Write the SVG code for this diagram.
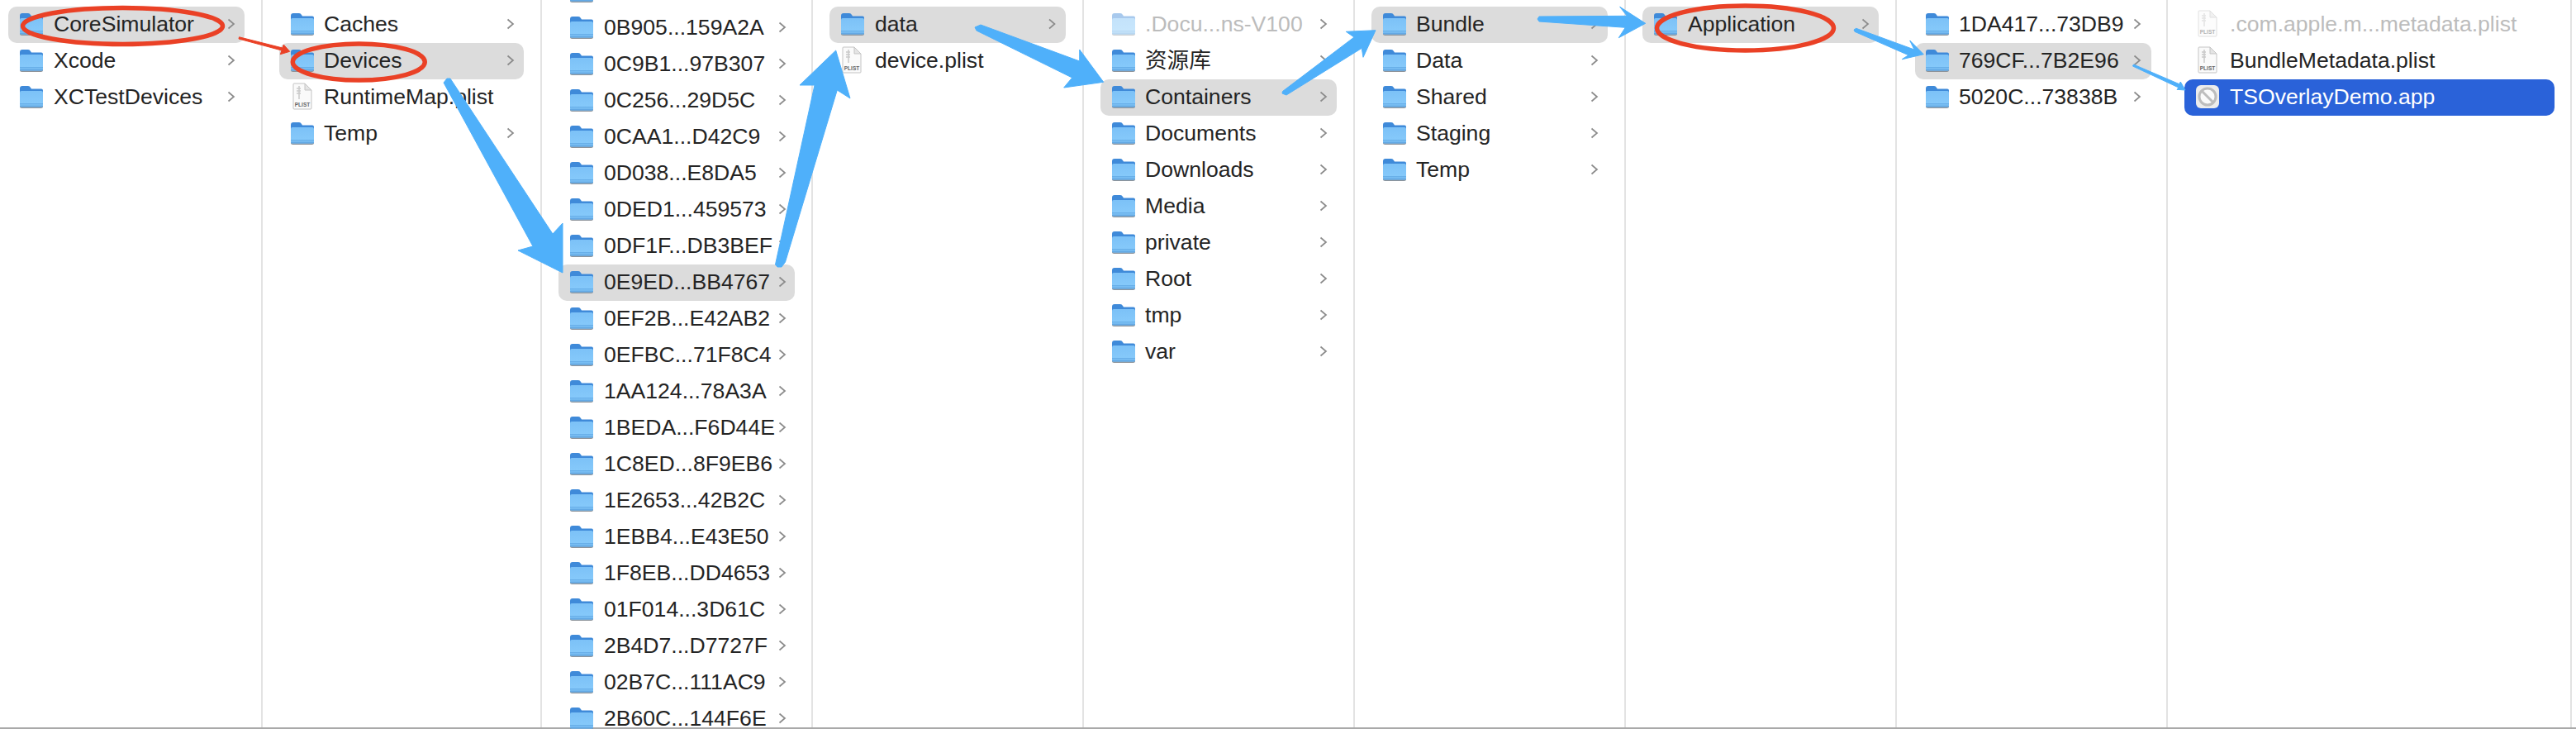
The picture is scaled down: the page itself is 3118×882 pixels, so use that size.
<svg xmlns="http://www.w3.org/2000/svg" width="3118" height="882" viewBox="0 0 3118 882">
<style>
text{font-family:"Liberation Sans","Noto Sans CJK SC",sans-serif;font-size:26.6px;fill:#242424}
.dim{fill:#bcbcbc}.sel{fill:#fff}
.hl{fill:#dcdcdc}.blue{fill:#2a62d9}
.div{stroke:#e3e3e3;stroke-width:2}
.chev{fill:none;stroke:#8b8b8b;stroke-width:1.7}
.arrow{fill:#4fb0fa;stroke:#4fb0fa;stroke-width:1;stroke-linejoin:round}
.ring{fill:none;stroke:#ea4126;stroke-width:5.500}
.plbl{font-size:6.5px;fill:#666;font-weight:bold}
</style>
<defs>
<linearGradient id="fb" x1="0" y1="0" x2="0" y2="1"><stop offset="0" stop-color="#7cc1f7"/><stop offset="1" stop-color="#88cbfb"/></linearGradient>
<g id="folder">
<rect x="0" y="-5" width="28" height="19" rx="2.5" fill="#8d939a"/>
<path d="M0-10q0-3 3-3h7q2 0 3 2l1 1.500h12q2 0 2 2v8H0z" fill="#3f8ad9"/>
<rect x="0" y="-7" width="28" height="19.500" rx="2" fill="url(#fb)"/>
<rect x="0" y="8" width="28" height="1.500" fill="#68afe9"/>
<rect x="0" y="10.500" width="28" height="2" rx="1" fill="#62a8e4"/>
</g>
<g id="plist">
<path d="M1-16h13l8 8v22a1 1 0 0 1-1 1H1a1 1 0 0 1-1-1v-29a1 1 0 0 1 1-1z" fill="#fafafa" stroke="#c4c4c4"/>
<path d="M14-16v8h8z" fill="#e4e4e4" stroke="#c4c4c4"/>
<path d="M7-13v16M4-10h5M4-7h5M4-4h5" stroke="#c9c9c9" stroke-width="1.500" fill="none"/>
<text x="11" y="12" text-anchor="middle" class="plbl">PLIST</text>
</g>
<path id="ch" class="chev" d="M0-5.500L6.500 0L0 5.500"/>
</defs>
<rect width="3118" height="882" fill="#fff"/>
<g id="dividers">
<line class="div" x1="317" y1="0" x2="317" y2="880"/>
<line class="div" x1="655" y1="0" x2="655" y2="880"/>
<line class="div" x1="983" y1="0" x2="983" y2="880"/>
<line class="div" x1="1311" y1="0" x2="1311" y2="880"/>
<line class="div" x1="1639" y1="0" x2="1639" y2="880"/>
<line class="div" x1="1967" y1="0" x2="1967" y2="880"/>
<line class="div" x1="2295" y1="0" x2="2295" y2="880"/>
<line class="div" x1="2623" y1="0" x2="2623" y2="880"/>
<line class="div" x1="3112" y1="0" x2="3112" y2="880"/>
<rect x="0" y="880" width="3118" height="2" fill="#a9a9a9"/>
</g>
<g id="col1">
<g id="coresimulator"><rect class="hl" x="10" y="8" width="286" height="44" rx="10"/><use href="#folder" x="24" y="29"/><text x="65" y="38">CoreSimulator</text><use href="#ch" x="276.500" y="29"/></g>
<g id="xcode"><use href="#folder" x="24" y="73"/><text x="65" y="82">Xcode</text><use href="#ch" x="276.500" y="73"/></g>
<g id="xctestdevices"><use href="#folder" x="24" y="117"/><text x="65" y="126">XCTestDevices</text><use href="#ch" x="276.500" y="117"/></g>
</g>
<g id="col2">
<g id="caches"><use href="#folder" x="352" y="29"/><text x="392" y="38">Caches</text><use href="#ch" x="614.500" y="29"/></g>
<g id="devices"><rect class="hl" x="338" y="52" width="296" height="44" rx="10"/><use href="#folder" x="352" y="73"/><text x="392" y="82">Devices</text><use href="#ch" x="614.500" y="73"/></g>
<g id="runtimemap"><use href="#plist" x="355" y="117"/><text x="392" y="126">RuntimeMap.plist</text></g>
<g id="temp2"><use href="#folder" x="352" y="161"/><text x="392" y="170">Temp</text><use href="#ch" x="614.500" y="161"/></g>
</g>
<g id="col3">
<g id="d00"><use href="#folder" x="690" y="-11"/></g>
<g id="d01"><use href="#folder" x="690" y="33"/><text x="731" y="42">0B905...159A2A</text><use href="#ch" x="943.500" y="33"/></g>
<g id="d02"><use href="#folder" x="690" y="77"/><text x="731" y="86">0C9B1...97B307</text><use href="#ch" x="943.500" y="77"/></g>
<g id="d03"><use href="#folder" x="690" y="121"/><text x="731" y="130">0C256...29D5C</text><use href="#ch" x="943.500" y="121"/></g>
<g id="d04"><use href="#folder" x="690" y="165"/><text x="731" y="174">0CAA1...D42C9</text><use href="#ch" x="943.500" y="165"/></g>
<g id="d05"><use href="#folder" x="690" y="209"/><text x="731" y="218">0D038...E8DA5</text><use href="#ch" x="943.500" y="209"/></g>
<g id="d06"><use href="#folder" x="690" y="253"/><text x="731" y="262">0DED1...459573</text><use href="#ch" x="943.500" y="253"/></g>
<g id="d07"><use href="#folder" x="690" y="297"/><text x="731" y="306">0DF1F...DB3BEF</text><use href="#ch" x="943.500" y="297"/></g>
<g id="d08"><rect class="hl" x="676" y="320" width="286" height="44" rx="10"/><use href="#folder" x="690" y="341"/><text x="731" y="350">0E9ED...BB4767</text><use href="#ch" x="943.500" y="341"/></g>
<g id="d09"><use href="#folder" x="690" y="385"/><text x="731" y="394">0EF2B...E42AB2</text><use href="#ch" x="943.500" y="385"/></g>
<g id="d10"><use href="#folder" x="690" y="429"/><text x="731" y="438">0EFBC...71F8C4</text><use href="#ch" x="943.500" y="429"/></g>
<g id="d11"><use href="#folder" x="690" y="473"/><text x="731" y="482">1AA124...78A3A</text><use href="#ch" x="943.500" y="473"/></g>
<g id="d12"><use href="#folder" x="690" y="517"/><text x="731" y="526">1BEDA...F6D44E</text><use href="#ch" x="943.500" y="517"/></g>
<g id="d13"><use href="#folder" x="690" y="561"/><text x="731" y="570">1C8ED...8F9EB6</text><use href="#ch" x="943.500" y="561"/></g>
<g id="d14"><use href="#folder" x="690" y="605"/><text x="731" y="614">1E2653...42B2C</text><use href="#ch" x="943.500" y="605"/></g>
<g id="d15"><use href="#folder" x="690" y="649"/><text x="731" y="658">1EBB4...E43E50</text><use href="#ch" x="943.500" y="649"/></g>
<g id="d16"><use href="#folder" x="690" y="693"/><text x="731" y="702">1F8EB...DD4653</text><use href="#ch" x="943.500" y="693"/></g>
<g id="d17"><use href="#folder" x="690" y="737"/><text x="731" y="746">01F014...3D61C</text><use href="#ch" x="943.500" y="737"/></g>
<g id="d18"><use href="#folder" x="690" y="781"/><text x="731" y="790">2B4D7...D7727F</text><use href="#ch" x="943.500" y="781"/></g>
<g id="d19"><use href="#folder" x="690" y="825"/><text x="731" y="834">02B7C...111AC9</text><use href="#ch" x="943.500" y="825"/></g>
<g id="d20"><use href="#folder" x="690" y="869"/><text x="731" y="878">2B60C...144F6E</text><use href="#ch" x="943.500" y="869"/></g>
</g>
<g id="col4">
<g id="data"><rect class="hl" x="1004" y="8" width="286" height="44" rx="10"/><use href="#folder" x="1018" y="29"/><text x="1059" y="38">data</text><use href="#ch" x="1270" y="29"/></g>
<g id="deviceplist"><use href="#plist" x="1020" y="73"/><text x="1059" y="82">device.plist</text></g>
</g>
<g id="col5">
<g id="docu"><g opacity="0.45"><use href="#folder" x="1346" y="29"/></g><text class="dim" x="1386" y="38">.Docu...ns-V100</text><use href="#ch" x="1598.500" y="29"/></g>
<g id="ziyuanku"><use href="#folder" x="1346" y="73"/><text x="1386" y="82">资源库</text><use href="#ch" x="1598.500" y="73"/></g>
<g id="containers"><rect class="hl" x="1332" y="96" width="286" height="44" rx="10"/><use href="#folder" x="1346" y="117"/><text x="1386" y="126">Containers</text><use href="#ch" x="1598.500" y="117"/></g>
<g id="documents"><use href="#folder" x="1346" y="161"/><text x="1386" y="170">Documents</text><use href="#ch" x="1598.500" y="161"/></g>
<g id="downloads"><use href="#folder" x="1346" y="205"/><text x="1386" y="214">Downloads</text><use href="#ch" x="1598.500" y="205"/></g>
<g id="media"><use href="#folder" x="1346" y="249"/><text x="1386" y="258">Media</text><use href="#ch" x="1598.500" y="249"/></g>
<g id="private"><use href="#folder" x="1346" y="293"/><text x="1386" y="302">private</text><use href="#ch" x="1598.500" y="293"/></g>
<g id="root"><use href="#folder" x="1346" y="337"/><text x="1386" y="346">Root</text><use href="#ch" x="1598.500" y="337"/></g>
<g id="tmp"><use href="#folder" x="1346" y="381"/><text x="1386" y="390">tmp</text><use href="#ch" x="1598.500" y="381"/></g>
<g id="var"><use href="#folder" x="1346" y="425"/><text x="1386" y="434">var</text><use href="#ch" x="1598.500" y="425"/></g>
</g>
<g id="col6">
<g id="bundle"><rect class="hl" x="1660" y="8" width="286" height="44" rx="10"/><use href="#folder" x="1674" y="29"/><text x="1714" y="38">Bundle</text><use href="#ch" x="1926.500" y="29"/></g>
<g id="data6"><use href="#folder" x="1674" y="73"/><text x="1714" y="82">Data</text><use href="#ch" x="1926.500" y="73"/></g>
<g id="shared"><use href="#folder" x="1674" y="117"/><text x="1714" y="126">Shared</text><use href="#ch" x="1926.500" y="117"/></g>
<g id="staging"><use href="#folder" x="1674" y="161"/><text x="1714" y="170">Staging</text><use href="#ch" x="1926.500" y="161"/></g>
<g id="temp6"><use href="#folder" x="1674" y="205"/><text x="1714" y="214">Temp</text><use href="#ch" x="1926.500" y="205"/></g>
</g>
<g id="col7">
<g id="application"><rect class="hl" x="1988" y="8" width="286" height="44" rx="10"/><use href="#folder" x="2002" y="29"/><text x="2043" y="38">Application</text><use href="#ch" x="2254.500" y="29"/></g>
</g>
<g id="col8">
<g id="u1"><use href="#folder" x="2331" y="29"/><text x="2371" y="38">1DA417...73DB9</text><use href="#ch" x="2583.500" y="29"/></g>
<g id="u2"><rect class="hl" x="2318" y="52" width="286" height="44" rx="10"/><use href="#folder" x="2331" y="73"/><text x="2371" y="82">769CF...7B2E96</text><use href="#ch" x="2583.500" y="73"/></g>
<g id="u3"><use href="#folder" x="2331" y="117"/><text x="2371" y="126">5020C...73838B</text><use href="#ch" x="2583.500" y="117"/></g>
</g>
<g id="col9">
<g id="metadata"><g opacity="0.5"><use href="#plist" x="2661" y="29"/></g><text class="dim" x="2699" y="38">.com.apple.m...metadata.plist</text></g>
<g id="bundlemeta"><use href="#plist" x="2661" y="73"/><text x="2699" y="82">BundleMetadata.plist</text></g>
<g id="tsoverlay"><rect class="blue" x="2644" y="96" width="448" height="44" rx="10"/>
<rect x="2658" y="103" width="28" height="28" rx="6" fill="#ececec"/>
<circle cx="2672" cy="117" r="10" fill="#fafafa" stroke="#bdbdbd" stroke-width="3"/>
<line x1="2665.500" y1="110.500" x2="2678.500" y2="123.500" stroke="#bdbdbd" stroke-width="3"/>
<text class="sel" x="2699" y="126">TSOverlayDemo.app</text></g>
</g>
<g id="connectors">
<polygon class="arrow" points="537,100 541,95 545,95 669,283 681,270 681,330 627,303 645,298"/>
<polygon class="arrow" points="938.500,320 986,103 968,103 1011.700,61 1029,119 1013.300,109 950.500,317 946,323 941,323"/>
<polygon class="arrow" points="1187,30 1306.700,74 1306.700,60 1335.700,99.300 1287.700,106 1297.700,94 1182,37 1180,33"/>
<polygon class="arrow" points="1557,115 1648.300,58.300 1650,69.300 1665,36.700 1629.300,38.300 1639,45 1552.500,110.500 1552,113"/>
<polygon class="arrow" points="1863,20 1969.300,19.300 1960.700,8.300 1991.700,28.300 1959.300,45.700 1967.300,33.300 1863,26 1861,23"/>
<polygon class="arrow" points="2246.700,34.300 2317,60 2311.700,49 2328.300,65.700 2302.300,71.700 2310,66.700 2245,38.300 2244,36"/>
<polygon class="arrow" points="2582.500,78 2637.700,101.700 2639.300,99 2645,109 2635,108.300 2637,106 2581.500,80"/>
<polygon fill="#ea4126" stroke="#ea4126" stroke-linejoin="round" points="289.500,44.800 342,58 343.300,54 350.700,62.300 339.300,65.700 341,61 289,47"/>
</g>
<g id="annotations">
<ellipse class="ring" cx="148.500" cy="31.500" rx="121" ry="22"/>
<ellipse class="ring" cx="434.300" cy="75" rx="80" ry="22"/>
<ellipse class="ring" cx="2112.500" cy="34" rx="107" ry="27"/>
</g>
</svg>
